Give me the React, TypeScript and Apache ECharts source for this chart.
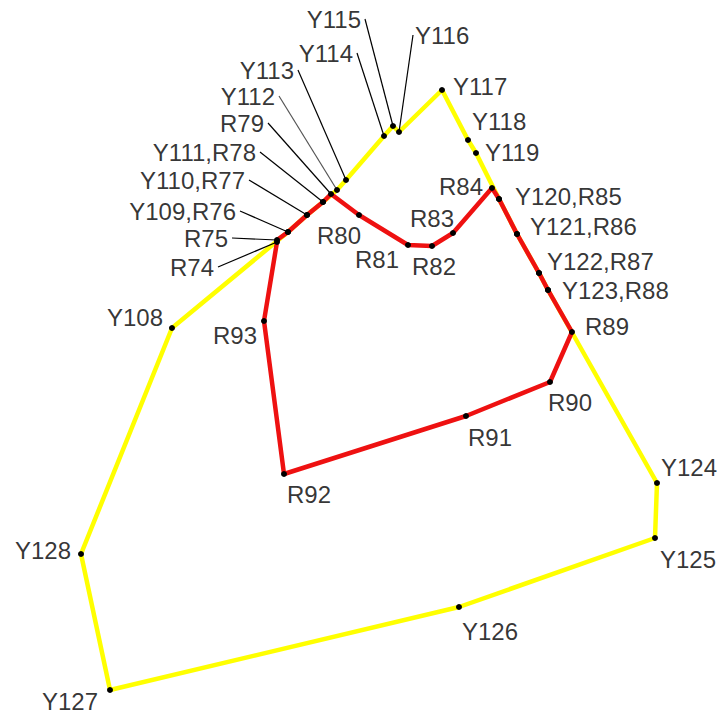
import React, { useEffect, useRef } from "react";
import * as echarts from "echarts";

// Outer (yellow) boundary points, in drawing units (x right, y down)
const yellowNames = [
  "Y108", "Y109", "Y110", "Y111", "Y112", "Y113", "Y114", "Y115", "Y116", "Y117",
  "Y118", "Y119", "Y120", "Y121", "Y122", "Y123", "Y124", "Y125", "Y126", "Y127", "Y128",
];
const yellowX = [172, 288, 307, 323, 337, 346, 384, 393, 399, 442, 468, 476, 499, 517, 539, 548, 657, 655, 459, 110, 81];
const yellowY = [328, 232, 215, 202, 190, 180, 136, 126, 132, 90, 140, 153, 199, 234, 273, 290, 483, 538, 607, 690, 554];

// Inner (red) boundary points
const redNames = [
  "R74", "R75", "R76", "R77", "R78", "R79", "R80", "R81", "R82", "R83",
  "R84", "R85", "R86", "R87", "R88", "R89", "R90", "R91", "R92", "R93",
];
const redX = [277, 277, 288, 307, 323, 331, 359, 408, 432, 453, 492, 499, 517, 539, 548, 572, 550, 466, 284, 264];
const redY = [242, 240, 232, 215, 202, 194, 215, 245, 246, 233, 188, 199, 234, 273, 290, 332, 382, 416, 474, 321];

// Label texts (combined where a Y and an R point coincide) and the point they belong to
const labelTexts = [
  "Y108", "Y109,R76", "Y110,R77", "Y111,R78", "Y112", "Y113", "Y114", "Y115", "Y116", "Y117",
  "Y118", "Y119", "Y120,R85", "Y121,R86", "Y122,R87", "Y123,R88", "Y124", "Y125", "Y126", "Y127", "Y128",
  "R74", "R75", "R79", "R80", "R81", "R82", "R83", "R84", "R89", "R90", "R91", "R92", "R93",
];
const labelAt = [
  "Y108", "Y109", "Y110", "Y111", "Y112", "Y113", "Y114", "Y115", "Y116", "Y117",
  "Y118", "Y119", "Y120", "Y121", "Y122", "Y123", "Y124", "Y125", "Y126", "Y127", "Y128",
  "R74", "R75", "R79", "R80", "R81", "R82", "R83", "R84", "R89", "R90", "R91", "R92", "R93",
];

// Layout: label offset (px) from its point, alignment, and whether a leader line is drawn
type Lay = { dx: number; dy: number; align: "left" | "right" | "center"; leader?: boolean; grey?: boolean };
const layout: Record<string, Lay> = {
  Y108: { dx: -37, dy: -11, align: "center" },
  Y109: { dx: -48, dy: -21, align: "right", leader: true },
  Y110: { dx: -58, dy: -35, align: "right", leader: true },
  Y111: { dx: -63, dy: -50, align: "right", leader: true },
  Y112: { dx: -58, dy: -94, align: "right", leader: true, grey: true },
  Y113: { dx: -48, dy: -110, align: "right", leader: true },
  Y114: { dx: -27, dy: -83, align: "right", leader: true },
  Y115: { dx: -28, dy: -107, align: "right", leader: true },
  Y116: { dx: 14, dy: -97, align: "left", leader: true },
  Y117: { dx: 11, dy: -4, align: "left" },
  Y118: { dx: 4, dy: -19, align: "left" },
  Y119: { dx: 9, dy: -1, align: "left" },
  Y120: { dx: 16, dy: -3, align: "left" },
  Y121: { dx: 13, dy: -8, align: "left" },
  Y122: { dx: 8, dy: -12, align: "left" },
  Y123: { dx: 14, dy: 0, align: "left" },
  Y124: { dx: 32, dy: -16, align: "center" },
  Y125: { dx: 33, dy: 21, align: "center" },
  Y126: { dx: 31, dy: 24, align: "center" },
  Y127: { dx: -40, dy: 11, align: "center" },
  Y128: { dx: -38, dy: -4, align: "center" },
  R74: { dx: -59, dy: 25, align: "right", leader: true },
  R75: { dx: -45, dy: -2, align: "right", leader: true },
  R79: { dx: -63, dy: -71, align: "right", leader: true },
  R80: { dx: -20, dy: 20, align: "center" },
  R81: { dx: -31, dy: 14, align: "center" },
  R82: { dx: 2, dy: 20, align: "center" },
  R83: { dx: -21, dy: -15, align: "center" },
  R84: { dx: -9, dy: -2, align: "right" },
  R89: { dx: 13, dy: -6, align: "left" },
  R90: { dx: 20, dy: 20, align: "center" },
  R91: { dx: 24, dy: 21, align: "center" },
  R92: { dx: 25, dy: 20, align: "center" },
  R93: { dx: -29, dy: 14, align: "center" },
};

const W = 722;
const H = 715;

export default function App() {
  const ref = useRef<HTMLDivElement>(null);
  useEffect(() => {
    if (!ref.current) return;
    const chart = echarts.init(ref.current, undefined, { renderer: "svg" });

    const pos: Record<string, [number, number]> = {};
    yellowNames.forEach((n, i) => (pos[n] = [yellowX[i], yellowY[i]]));
    redNames.forEach((n, i) => (pos[n] = [redX[i], redY[i]]));

    const yellowData = yellowNames.map((_, i) => [yellowX[i], yellowY[i]]);
    yellowData.push(yellowData[0]);
    const redData = redNames.map((_, i) => [redX[i], redY[i]]);
    redData.push(redData[0]);

    const leaders: any[] = [];
    const labelData: any[] = [];
    labelTexts.forEach((t, i) => {
      const at = labelAt[i];
      const p = pos[at];
      const l = layout[at];
      if (l.leader) {
        leaders.push({
          coords: [p, [p[0] + l.dx, p[1] + l.dy]],
          lineStyle: { color: l.grey ? "#555" : "#000", width: 1.2, opacity: 1 },
        });
      }
      const gap = l.leader ? (l.align === "right" ? -4 : 2) : 0;
      labelData.push({
        value: p,
        name: t,
        label: {
          offset: [l.dx + gap, l.dy],
          align: l.align,
        },
      });
    });

    const dots = [
      ...yellowNames.map((_, i) => [yellowX[i], yellowY[i]]),
      ...redNames.map((_, i) => [redX[i], redY[i]]),
    ];

    chart.setOption({
      animation: false,
      backgroundColor: "#ffffff",
      grid: { left: 0, right: 0, top: 0, bottom: 0 },
      xAxis: { type: "value", min: 0, max: W, show: false },
      yAxis: { type: "value", min: 0, max: H, inverse: true, show: false },
      series: [
        {
          type: "line",
          data: yellowData,
          symbol: "none",
          lineStyle: { color: "#ffff00", width: 4.5 },
          z: 1,
        },
        {
          type: "line",
          data: redData,
          symbol: "none",
          lineStyle: { color: "#ee1111", width: 4.5 },
          z: 2,
        },
        {
          type: "lines",
          coordinateSystem: "cartesian2d",
          data: leaders,
          symbol: "none",
          lineStyle: { opacity: 1, width: 1.2, color: "#000" },
          z: 3,
        },
        {
          type: "scatter",
          data: dots,
          symbolSize: 6,
          itemStyle: { color: "#000", opacity: 1 },
          z: 4,
        },
        {
          type: "scatter",
          data: labelData,
          symbolSize: 0,
          itemStyle: { color: "transparent" },
          z: 5,
          label: {
            show: true,
            position: "inside",
            formatter: (p: any) => p.name,
            color: "#000",
            fontSize: 24,
            fontFamily: "'Liberation Sans', Arial, sans-serif",
            verticalAlign: "middle",
          },
        },
      ],
    });
    return () => chart.dispose();
  }, []);
  return (
    <div
      ref={ref}
      style={{ position: "fixed", left: 0, top: 0, width: W, height: H, background: "#fff" }}
    />
  );
}
